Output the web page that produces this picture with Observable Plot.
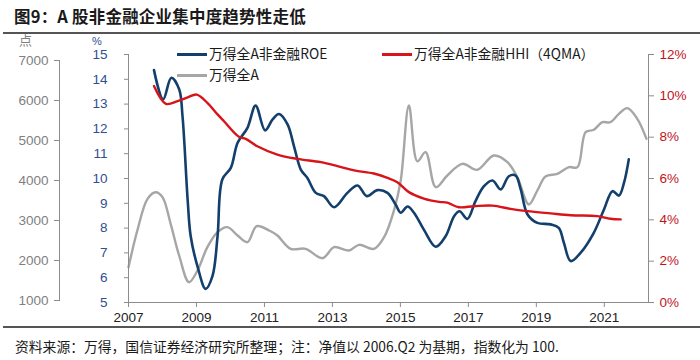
<!DOCTYPE html>
<html><head><meta charset="utf-8">
<script src="https://cdn.jsdelivr.net/npm/d3@7"></script>
<script src="https://cdn.jsdelivr.net/npm/@observablehq/plot@0.6"></script>
<style>
body{margin:0;background:#fff;}
#wrap{position:relative;width:700px;height:360px;overflow:hidden;background:#fff;font-family:"Noto Sans CJK SC","Noto Sans",sans-serif;color:#1a1a1a;}
.layer{position:absolute;left:0;top:0;}
.title{position:absolute;left:14px;top:4px;font-size:16.5px;font-weight:600;letter-spacing:0.2px;white-space:nowrap;}
.rule{position:absolute;left:3px;right:0;height:2px;background:#555;}
.caption{position:absolute;left:15px;top:336px;font-size:13.8px;white-space:nowrap;}
.leg{position:absolute;font-size:13.8px;white-space:nowrap;line-height:16px;height:16px;}
.sw{display:inline-block;width:30px;height:2.5px;vertical-align:middle;margin-right:2px;position:relative;top:-1px;}
.unit{position:absolute;font-family:"Liberation Sans",Arial,sans-serif;line-height:1;}
</style></head><body>
<div id="wrap">
  <div class="title" id="title"></div>
  <div class="rule" style="top:32px"></div>
  <div class="rule" style="top:326px;height:1.5px"></div>
  <div class="caption" id="caption"></div>
</div>
<script>
const titleText = "图9：A 股非金融企业集中度趋势性走低";
const captionText = "资料来源：万得，国信证券经济研究所整理；注：净值以 2006.Q2 为基期，指数化为 100.";
const seriesNames = ["万得全A非金融ROE", "万得全A非金融HHI（4QMA）", "万得全A"];

const yearTicks = [2007, 2009, 2011, 2013, 2015, 2017, 2019, 2021];
const indexTicks = [1000, 2000, 3000, 4000, 5000, 6000, 7000];
const roeTicks = [5, 6, 7, 8, 9, 10, 11, 12, 13, 14, 15];
const hhiTicks = [0, 2, 4, 6, 8, 10, 12];

const roeYears = [2007.75,2008.02,2008.26,2008.49,2008.59,2008.74,2008.83,2009.03,2009.27,2009.47,2009.62,2009.76,2010.01,2010.21,2010.5,2010.74,2011.02,2011.24,2011.43,2011.68,2011.87,2012.07,2012.26,2012.51,2012.75,2013.05,2013.44,2013.74,2014.01,2014.32,2014.62,2014.86,2015.01,2015.21,2015.4,2015.69,2016.04,2016.33,2016.58,2016.74,2016.97,2017.21,2017.46,2017.71,2017.95,2018.19,2018.39,2018.54,2018.74,2019.03,2019.42,2019.66,2019.81,2020.01,2020.3,2020.69,2020.99,2021.24,2021.43,2021.58,2021.72];
const roeValues = [14.37,13.19,14.06,13.6,12.5,9.15,7.67,6.46,5.55,6.06,7.67,9.96,10.43,11.44,12.04,12.94,11.94,12.38,12.6,12.18,11.3,10.36,10.03,9.42,9.29,8.84,9.42,9.72,9.29,9.53,9.42,8.95,8.62,8.87,8.62,7.94,7.25,7.67,8.48,8.68,8.37,9.09,9.69,9.92,9.56,10.09,10.12,9.56,8.55,8.21,8.15,8.01,7.41,6.67,7.0,7.81,8.75,9.49,9.31,9.83,10.77];

const hhiYears = [2007.75,2008.1,2008.44,2008.74,2009.01,2009.32,2009.62,2009.81,2010.25,2010.45,2010.79,2011.38,2011.97,2012.66,2013.15,2013.64,2014.22,2014.62,2014.91,2015.25,2015.69,2016.14,2016.38,2016.72,2017.16,2017.71,2018.24,2018.74,2019.42,2020.01,2020.79,2021.18,2021.48];
const hhiValues = [10.47,9.61,9.74,9.93,10.06,9.66,9.1,8.77,8.02,7.92,7.56,7.16,6.95,6.79,6.6,6.39,6.24,6.03,5.82,5.34,5.03,4.87,4.83,4.61,4.66,4.69,4.53,4.42,4.31,4.22,4.18,4.05,4.02];

const indexYears = [2007.0,2007.26,2007.56,2007.8,2008.0,2008.24,2008.49,2008.78,2009.03,2009.32,2009.62,2009.91,2010.21,2010.5,2010.77,2011.14,2011.38,2011.77,2012.21,2012.71,2013.05,2013.49,2013.78,2014.22,2014.52,2014.81,2015.01,2015.25,2015.5,2015.74,2016.04,2016.38,2016.82,2017.26,2017.75,2018.15,2018.44,2018.78,2019.03,2019.27,2019.62,2019.96,2020.21,2020.45,2020.69,2020.94,2021.18,2021.43,2021.68,2021.97,2022.24];
const indexValues = [1833,2750,3542,3708,3583,2917,2125,1458,1750,2333,2708,2833,2625,2458,2858,2750,2625,2292,2292,2058,2333,2250,2392,2292,2583,3250,4000,5875,4480,4708,3833,4125,4417,4267,4625,4458,4083,3400,3750,4100,4167,4333,4333,5208,5267,5458,5458,5667,5808,5542,5042];

const roeData = roeYears.map((x, i) => ({x, v: roeValues[i]}));
const hhiData = hhiYears.map((x, i) => ({x, v: hhiValues[i]}));
const indexData = indexYears.map((x, i) => ({x, v: indexValues[i]}));

const colors = {roe: "#133f6d", hhi: "#d7141a", idx: "#a6a6a6"};
const axisGray = "#8c8c8c";
const W = 700, H = 360, MT = 54, MB = 58, ML = 128, MR = 52;
const xDomain = [2007, 2022.3];
const tickFont = {fontFamily: "'Liberation Sans', Arial, sans-serif", fontSize: "13.5px", background: "transparent", overflow: "visible"};

const wrap = document.getElementById("wrap");
document.getElementById("title").textContent = titleText;
document.getElementById("caption").textContent = captionText;

function add(svg) { svg.classList.add("layer"); wrap.appendChild(svg); }

// outer left axis for the index (万得全A)
add(Plot.plot({
  width: W, height: H, marginLeft: 59, marginRight: MR, marginTop: 60, marginBottom: 60,
  style: tickFont,
  y: {domain: [1000, 7000]},
  marks: [
    Plot.frame({anchor: "left", stroke: axisGray}),
    Plot.axisY(indexTicks, {anchor: "left", tickSize: 5, tickPadding: 6, stroke: axisGray, fill: "#7f7f7f", tickFormat: d => String(d), label: null})
  ]
}));

// index line + x axis
add(Plot.plot({
  width: W, height: H, marginLeft: ML, marginRight: MR, marginTop: MT, marginBottom: MB,
  style: tickFont,
  x: {domain: xDomain},
  y: {domain: [950, 7150], axis: null},
  marks: [
    Plot.frame({anchor: "bottom", stroke: axisGray}),
    Plot.axisX(yearTicks, {anchor: "bottom", tickSize: 5, tickPadding: 5, stroke: axisGray, fill: "#222", tickFormat: d => String(d), label: null}),
    Plot.line(indexData, {x: "x", y: "v", stroke: colors.idx, strokeWidth: 2.4, curve: "catmull-rom"})
  ]
}));

// ROE line + inner left axis
add(Plot.plot({
  width: W, height: H, marginLeft: ML, marginRight: MR, marginTop: MT, marginBottom: MB,
  style: tickFont,
  x: {domain: xDomain, axis: null},
  y: {domain: [5, 15]},
  marks: [
    Plot.frame({anchor: "left", stroke: axisGray}),
    Plot.axisY(roeTicks, {anchor: "left", tickSize: 4, tickPadding: 17, stroke: axisGray, fill: "#2f4f8f", label: null}),
    Plot.line(roeData, {x: "x", y: "v", stroke: colors.roe, strokeWidth: 2.6, curve: "catmull-rom"})
  ]
}));

// HHI line + right axis
add(Plot.plot({
  width: W, height: H, marginLeft: ML, marginRight: MR, marginTop: MT, marginBottom: MB,
  style: tickFont,
  x: {domain: xDomain, axis: null},
  y: {domain: [0, 12]},
  marks: [
    Plot.frame({anchor: "right", stroke: axisGray}),
    Plot.axisY(hhiTicks, {anchor: "right", tickSize: 5, tickPadding: 6, stroke: axisGray, fill: "#c0141b", tickFormat: d => d + "%", label: null}),
    Plot.line(hhiData, {x: "x", y: "v", stroke: colors.hhi, strokeWidth: 2.4, curve: "catmull-rom"})
  ]
}));

// unit labels
const u1 = document.createElement("div"); u1.className = "unit";
u1.style.cssText += "left:19px;top:33px;font-size:13px;color:#7f7f7f;font-family:'Noto Sans CJK SC',sans-serif;";
u1.textContent = "点"; wrap.appendChild(u1);
const u2 = document.createElement("div"); u2.className = "unit";
u2.style.cssText += "left:92px;top:36px;font-size:11px;color:#2f4f8f;";
u2.textContent = "%"; wrap.appendChild(u2);

// legend
const legendItems = [
  {name: seriesNames[0], color: colors.roe, left: 177, top: 45},
  {name: seriesNames[1], color: colors.hhi, left: 382, top: 45},
  {name: seriesNames[2], color: colors.idx, left: 177, top: 66}
];
for (const it of legendItems) {
  const d = document.createElement("div");
  d.className = "leg";
  d.style.left = it.left + "px"; d.style.top = it.top + "px";
  const s = document.createElement("span"); s.className = "sw"; s.style.background = it.color;
  d.appendChild(s); d.appendChild(document.createTextNode(it.name));
  wrap.appendChild(d);
}
</script>
</body></html>
